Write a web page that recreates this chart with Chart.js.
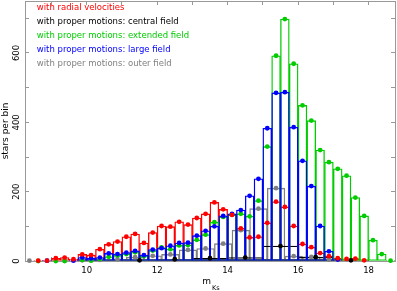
<!DOCTYPE html>
<html>
<head>
<meta charset="utf-8">
<script src="https://cdn.jsdelivr.net/npm/chart.js@4.4.1/dist/chart.umd.min.js"></script>
<style>
  html, body { margin: 0; padding: 0; background: #fff; }
  #wrap { width: 397px; height: 291px; }
</style>
</head>
<body>
<div id="wrap"><canvas id="canvas"></canvas></div>
<script>
// magnitude bins, 0.25 mag wide
var fineBins = [8.375, 8.625, 8.875, 9.125, 9.375, 9.625, 9.875, 10.125, 10.375, 10.625,
    10.875, 11.125, 11.375, 11.625, 11.875, 12.125, 12.375, 12.625, 12.875, 13.125,
    13.375, 13.625, 13.875, 14.125, 14.375, 14.625, 14.875, 15.125, 15.375, 15.625,
    15.875, 16.125, 16.375, 16.625, 16.875, 17.125, 17.375, 17.625, 17.875, 18.125,
    18.375, 18.625];

var radialVelocities = [null, 1, 1, 8, 10, 5, 19, 17, 34, 48,
    56, 70, 78, 52, 82, 101, 99, 113, 105, 124,
    136, 169, 149, 133, 94, 68, 70, 110, 171, 156,
    101, 49, 40, 23, 14, 8, 6, 7, 2, null,
    null, null];

var extendedField = [null, 0, null, 0, 0, null, 3, 1, 6, 12,
    16, 20, 25, 14, 30, 39, 34, 45, 46, 61,
    76, 112, 127, 134, 136, 129, 174, 330, 592, 698,
    569, 449, 405, 320, 285, 266, 246, 183, 130, 60,
    20, 1];

var largeField = [null, null, 1, null, null, 1, 10, 8, 10, 22,
    20, 24, 29, 17, 33, 37, 44, 52, 53, 73,
    87, 100, 130, 136, 147, 188, 237, 383, 485, 487,
    386, 289, 216, 101, 28, 4, null, null, null, null,
    null, null];

// outer field, 0.5 mag bins
var outerBins = [8.375, 9.375, 9.875, 10.375, 10.875, 11.375, 11.875, 12.375, 12.875,
    13.375, 13.875, 14.375, 14.875, 15.375, 15.875, 16.375, 16.875];
var outerField = [1, 1, 2, 3, 5, 11, 15, 19, 32,
    36, 50, 89, 151, 210, 14, 12, 4];

// central field, 1 mag bins
var centralBins = [11.5, 12.5, 13.5, 14.5, 15.5, 16.5, 17.5];
var centralField = [2, 5, 8, 10, 43, 11, 2];

var xTickLabels = [10, 12, 14, 16, 18];
var yTickLabels = [0, 200, 400, 600];

var red = '#ff0000', black = '#000000', green = '#00cc00', blue = '#0000ff', grey = '#808080';
var frame = '#999999';
var font = { family: 'DejaVu Sans', size: 8.5 };

function points(bins, vals) {
    var out = [];
    for (var i = 0; i < bins.length; i++) {
        if (vals[i] !== null) out.push({ x: bins[i], y: vals[i] });
    }
    return out;
}

function histo(label, bins, vals, color, axis, order) {
    return {
        type: 'bar', label: label, data: points(bins, vals), xAxisID: axis,
        borderColor: color, backgroundColor: 'rgba(0,0,0,0)', borderWidth: 0.7,
        borderSkipped: false, grouped: false, barPercentage: 1, categoryPercentage: 1,
        order: order
    };
}

function dots(bins, vals, color, order) {
    return {
        type: 'line', label: '', data: points(bins, vals), xAxisID: 'x',
        showLine: false, pointRadius: 2.4, pointBackgroundColor: color,
        pointBorderWidth: 0, clip: false, order: order
    };
}

// x axis title with its subscript
var subscript = {
    id: 'subscript',
    afterDraw: function(chart) {
        var sx = chart.scales.x, ctx = chart.ctx;
        var cx = (sx.left + sx.right) / 2;
        ctx.save();
        ctx.fillStyle = '#000';
        ctx.textBaseline = 'alphabetic';
        ctx.font = '9px "DejaVu Sans"';
        ctx.textAlign = 'right';
        ctx.fillText('m', cx + 1, 284);
        ctx.font = '6.5px "DejaVu Sans"';
        ctx.textAlign = 'left';
        ctx.fillText('Ks', cx + 2, 290);
        ctx.restore();
    }
};

function noTicks(scale) { scale.ticks = []; }
function noPadding(scale) { scale.paddingLeft = 0; scale.paddingRight = 0; scale.paddingTop = 0; scale.paddingBottom = 0; }

function isLabel(list, v) {
    return list.indexOf(Math.round(v * 1000) / 1000) >= 0;
}

var config = {
    type: 'bar',
    data: {
        datasets: [
            histo('with radial velocities', fineBins, radialVelocities, red, 'x', 18),
            histo('with proper motions: central field', centralBins, centralField, black, 'xb', 19),
            histo('with proper motions: extended field', fineBins, extendedField, green, 'x', 17),
            histo('with proper motions: large field', fineBins, largeField, blue, 'x', 16),
            histo('with proper motions: outer field', outerBins, outerField, grey, 'xg', 20),
            dots(fineBins, radialVelocities, red, 6),
            dots(centralBins, centralField, black, 9),
            dots(fineBins, extendedField, green, 8),
            dots(fineBins, largeField, blue, 7),
            dots(outerBins, outerField, grey, 10)
        ]
    },
    options: {
        responsive: true,
        maintainAspectRatio: false,
        animation: false,
        layout: { padding: 0, autoPadding: false },
        plugins: {
            tooltip: { enabled: false },
            legend: {
                position: 'chartArea',
                align: 'start',
                labels: {
                    font: font,
                    boxWidth: 6.5,
                    boxHeight: 13,
                    padding: 1,
                    generateLabels: function(chart) {
                        var items = Chart.defaults.plugins.legend.labels.generateLabels(chart);
                        items = items.filter(function(it) { return it.text; });
                        items.sort(function(a, b) { return a.datasetIndex - b.datasetIndex; });
                        items.forEach(function(it) {
                            it.fontColor = chart.data.datasets[it.datasetIndex].borderColor;
                            it.fillStyle = 'rgba(0,0,0,0)';
                            it.strokeStyle = 'rgba(0,0,0,0)';
                            it.lineWidth = 0;
                        });
                        return items;
                    }
                }
            }
        },
        scales: {
            x: {
                type: 'linear', position: 'bottom', min: 8.25, max: 18.75, offset: false,
                border: { color: frame },
                grid: { drawOnChartArea: false, offset: false, tickLength: -4, color: frame },
                ticks: {
                    stepSize: 1, includeBounds: false, padding: 9, color: '#000', font: font,
                    maxRotation: 0, autoSkip: false,
                    callback: function(v) { return isLabel(xTickLabels, v) ? String(v) : ''; }
                },
                afterFit: function(s) { s.height = 30; noPadding(s); }
            },
            xg: { type: 'linear', display: false, offset: false, min: 8.25, max: 18.75, afterBuildTicks: noTicks },
            xb: { type: 'linear', display: false, offset: false, min: 8.25, max: 18.75, afterBuildTicks: noTicks },
            x2: {
                type: 'linear', position: 'top', min: 8.25, max: 18.75, offset: false,
                border: { color: frame },
                grid: { drawOnChartArea: false, offset: false, tickLength: -4, color: frame },
                ticks: { stepSize: 1, includeBounds: false, display: false },
                afterFit: function(s) { s.height = 1; noPadding(s); }
            },
            y: {
                min: 0, max: 750,
                border: { color: frame },
                grid: { drawOnChartArea: false, tickLength: -4, color: frame },
                ticks: {
                    stepSize: 100, includeBounds: false, padding: 4, color: '#000', font: font,
                    minRotation: 90, maxRotation: 90, crossAlign: 'center',
                    callback: function(v) { return isLabel(yTickLabels, v) ? String(v) : ''; }
                },
                title: { display: true, text: 'stars per bin', color: '#000', font: { family: 'DejaVu Sans', size: 9 }, padding: 0 },
                afterFit: function(s) { s.width = 25; noPadding(s); }
            },
            y2: {
                type: 'linear', position: 'right', min: 0, max: 750,
                border: { color: frame },
                grid: { drawOnChartArea: false, tickLength: -4, color: frame },
                ticks: { stepSize: 100, includeBounds: false, display: false },
                afterFit: function(s) { s.width = 2; noPadding(s); }
            }
        }
    },
    plugins: [subscript]
};

window.onload = function() {
    var ctx = document.getElementById('canvas').getContext('2d');
    new Chart(ctx, config);
};
</script>
</body>
</html>
